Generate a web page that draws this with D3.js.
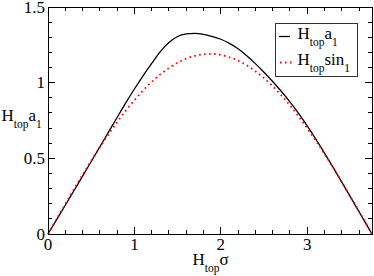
<!DOCTYPE html>
<html>
<head>
<meta charset="utf-8">
<script src="https://cdn.jsdelivr.net/npm/d3@7/dist/d3.min.js"></script>
<style>
  html, body { margin: 0; padding: 0; background: #fff; }
  svg { display: block; }
  text { font-family: "Liberation Serif", "Times New Roman", Times, serif; fill: #000; }
</style>
</head>
<body>
<svg id="chart" width="374" height="276"></svg>
<script>
// ---- data ----
const sigma = [0, 0.1, 0.2, 0.3, 0.4, 0.5, 0.6, 0.7, 0.8, 0.9, 1.0, 1.1, 1.2, 1.3, 1.4, 1.5, 1.6, 1.7, 1.8, 1.9,
               2.0, 2.1, 2.2, 2.3, 2.4, 2.5, 2.6, 2.7, 2.8, 2.9, 3.0, 3.1, 3.2, 3.3, 3.4, 3.5, 3.6, 3.7, 3.75];
const a1 = [0, 0.095, 0.19, 0.286, 0.382, 0.479, 0.576, 0.673, 0.77, 0.866, 0.958, 1.045, 1.127, 1.205, 1.265, 1.305,
            1.322, 1.326, 1.319, 1.305, 1.287, 1.26, 1.224, 1.178, 1.126, 1.069, 1.008, 0.943, 0.873, 0.797,
            0.715, 0.627, 0.535, 0.44, 0.343, 0.245, 0.147, 0.049, 0];
const sin1 = [0, 0.1, 0.198, 0.296, 0.391, 0.484, 0.573, 0.659, 0.739, 0.815, 0.884, 0.948, 1.005, 1.055, 1.097,
              1.132, 1.159, 1.177, 1.188, 1.19, 1.183, 1.168, 1.146, 1.115, 1.076, 1.03, 0.977, 0.916, 0.85,
              0.777, 0.699, 0.616, 0.529, 0.438, 0.344, 0.247, 0.149, 0.05, 0];
const xTicks = [0, 1, 2, 3];
const xTickLabels = ["0", "1", "2", "3"];
const yTicks = [0, 0.5, 1, 1.5];
const yTickLabels = ["0", "0.5", "1", "1.5"];
const seriesNames = ["a", "sin"];

// ---- layout ----
const svg = d3.select("#chart");
const L = 48, R = 372, T = 7, B = 234;
const x = d3.scaleLinear().domain([0, 3.75]).range([L, R]);
const y = d3.scaleLinear().domain([0, 1.5]).range([B, T]);

const lineGen = (vals) => d3.line().curve(d3.curveMonotoneX)
  .x((d, i) => x(sigma[i])).y((d, i) => y(vals[i]))(vals);

// curves
svg.append("path").attr("d", lineGen(a1))
  .attr("fill", "none").attr("stroke", "#000").attr("stroke-width", 1.3);
svg.append("path").attr("d", lineGen(sin1))
  .attr("fill", "none").attr("stroke", "#ff0000").attr("stroke-width", 1.8)
  .attr("stroke-dasharray", "1.6,3.4");

// frame
const g = svg.append("g").attr("shape-rendering", "crispEdges");
g.append("rect").attr("x", L).attr("y", T).attr("width", R - L).attr("height", B - T)
  .attr("fill", "none").attr("stroke", "#000").attr("stroke-width", 1);

const major = 7, minor = 4;
const xMinor = d3.range(0.2, 3.75, 0.2).filter(v => Math.abs(v - Math.round(v)) > 1e-6);
const yMinor = d3.range(0.1, 1.5, 0.1).filter(v => Math.abs(v * 2 - Math.round(v * 2)) > 1e-6);

function xTick(v, len) {
  g.append("line").attr("x1", x(v)).attr("x2", x(v)).attr("y1", B).attr("y2", B - len).attr("stroke", "#000");
  g.append("line").attr("x1", x(v)).attr("x2", x(v)).attr("y1", T).attr("y2", T + len).attr("stroke", "#000");
}
function yTick(v, len) {
  g.append("line").attr("y1", y(v)).attr("y2", y(v)).attr("x1", L).attr("x2", L + len).attr("stroke", "#000");
  g.append("line").attr("y1", y(v)).attr("y2", y(v)).attr("x1", R).attr("x2", R - len).attr("stroke", "#000");
}
xTicks.forEach(v => xTick(v, major));
xMinor.forEach(v => xTick(v, minor));
yTicks.forEach(v => yTick(v, major));
yMinor.forEach(v => yTick(v, minor));

// tick labels
const fs = 17;
xTicks.forEach((v, i) => {
  svg.append("text").attr("x", x(v)).attr("y", 250).attr("text-anchor", "middle")
    .attr("font-size", fs).text(xTickLabels[i]);
});
yTicks.forEach((v, i) => {
  svg.append("text").attr("x", 45).attr("y", y(v) + 5.8).attr("text-anchor", "end")
    .attr("font-size", fs).text(yTickLabels[i]);
});

// helper for "H_top ..." labels
function label(xp, yp, parts, anchor) {
  const t = svg.append("text").attr("x", xp).attr("y", yp).attr("font-size", fs)
    .attr("text-anchor", anchor || "start");
  let shifted = false;
  parts.forEach(p => {
    const ts = t.append("tspan").text(p.t);
    if (p.sub && !shifted) { ts.attr("dy", 7).attr("font-size", 11.5); shifted = true; }
    else if (p.sub) { ts.attr("font-size", 11.5); }
    else if (shifted) { ts.attr("dy", -7); shifted = false; }
  });
  return t;
}

// axis titles
label(210.5, 264.5, [{t: "H"}, {t: "top", sub: true}, {t: "σ"}], "middle");
label(1.5, 120.7, [{t: "H"}, {t: "top", sub: true}, {t: "a"}, {t: "1", sub: true}]);

// legend
const lg = svg.append("g");
lg.append("rect").attr("x", 275.5).attr("y", 23.5).attr("width", 82).attr("height", 53)
  .attr("fill", "#fff").attr("stroke", "#333").attr("stroke-width", 1).attr("shape-rendering", "crispEdges");
lg.append("line").attr("x1", 279).attr("x2", 290).attr("y1", 36.5).attr("y2", 36.5)
  .attr("stroke", "#000").attr("stroke-width", 1.3);
lg.append("line").attr("x1", 280).attr("x2", 293).attr("y1", 62.5).attr("y2", 62.5)
  .attr("stroke", "#ff0000").attr("stroke-width", 1.8).attr("stroke-dasharray", "1.6,3.4");
label(297.5, 38.7, [{t: "H"}, {t: "top", sub: true}, {t: seriesNames[0]}, {t: "1", sub: true}]);
label(297.5, 65.2, [{t: "H"}, {t: "top", sub: true}, {t: seriesNames[1]}, {t: "1", sub: true}]);
</script>
</body>
</html>
